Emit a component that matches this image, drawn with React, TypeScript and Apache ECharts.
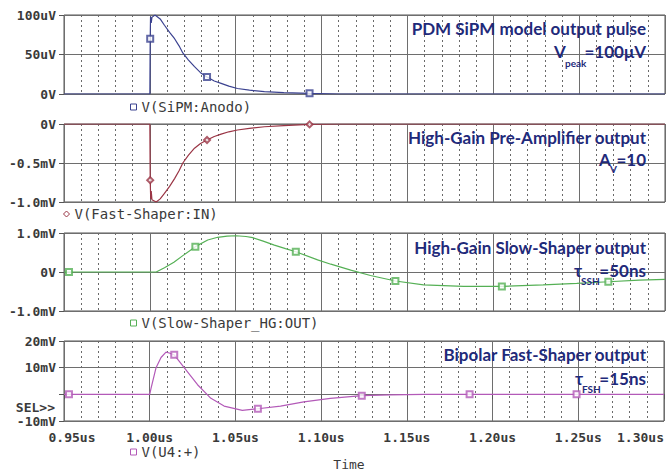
import React, { useEffect, useRef } from "react";
import * as echarts from "echarts";

// Time axis (microseconds) tick labels
const timeTickLabels = ["0.95us", "1.00us", "1.05us", "1.10us", "1.15us", "1.20us", "1.25us", "1.30us"];

// Y tick labels per panel, listed from the bottom tick upwards
const sipmTickLabels = ["0V", "50uV", "100uV"];
const preampTickLabels = ["-1.0mV", "-0.5mV", "0V"];
const slowTickLabels = ["-1.0mV", "0V", "1.0mV"];
const fastTickLabels = ["-10mV", "", "10mV", "20mV"];

// V(SiPM:Anodo), in uV
const sipmTime = [0.95, 1.0, 1.0002, 1.0004, 1.0008, 1.0012, 1.003, 1.006, 1.0085, 1.0115, 1.0144, 1.017, 1.0192, 1.0225, 1.026, 1.0295, 1.0333, 1.0375, 1.0415, 1.046, 1.051, 1.058, 1.0667, 1.078, 1.093, 1.11, 1.3];
const sipmUv = [0, 0, 70, 98, 90, 97, 100, 95, 87, 78, 70, 61, 52, 43, 34.6, 27, 21.5, 16.5, 13.5, 10, 7, 4.8, 3, 1.8, 0.8, 0, 0];
const sipmMarkTime = [1.0002, 1.0333, 1.093];
const sipmMarkUv = [70, 21.5, 0.8];

// V(Fast-Shaper:IN), in mV
const preampTime = [0.95, 1.0, 1.0002, 1.0005, 1.0008, 1.0012, 1.0037, 1.006, 1.0085, 1.0115, 1.0144, 1.017, 1.0192, 1.0225, 1.026, 1.0295, 1.0333, 1.0375, 1.0415, 1.046, 1.051, 1.058, 1.0667, 1.078, 1.093, 1.11, 1.3];
const preampMv = [0, 0, -0.72, -0.96, -0.86, -0.97, -1.0, -0.96, -0.89, -0.8, -0.7, -0.6, -0.5, -0.4, -0.31, -0.25, -0.205, -0.16, -0.13, -0.1, -0.077, -0.055, -0.035, -0.02, -0.005, 0, 0];
const preampMarkTime = [1.0002, 1.0333, 1.093];
const preampMarkMv = [-0.72, -0.205, -0.005];

// V(Slow-Shaper_HG:OUT), in mV
const slowTime = [0.95, 1.0, 1.0037, 1.0085, 1.014, 1.0192, 1.0265, 1.0337, 1.0395, 1.045, 1.0502, 1.056, 1.0599, 1.066, 1.0725, 1.079, 1.085, 1.0977, 1.1054, 1.117, 1.1285, 1.143, 1.1594, 1.1827, 1.205, 1.229, 1.2486, 1.267, 1.285, 1.3];
const slowMv = [0, 0, 0, 0.11, 0.25, 0.42, 0.65, 0.82, 0.89, 0.92, 0.93, 0.91, 0.88, 0.79, 0.69, 0.6, 0.52, 0.31, 0.2, 0.05, -0.09, -0.23, -0.33, -0.37, -0.37, -0.33, -0.29, -0.25, -0.21, -0.19];
const slowMarkTime = [0.9529, 1.0265, 1.085, 1.143, 1.205, 1.267];
const slowMarkMv = [0, 0.65, 0.52, -0.23, -0.37, -0.25];

// V(U4:+), in mV
const fastTime = [0.95, 1.0, 1.0008, 1.0037, 1.0066, 1.0095, 1.0114, 1.0143, 1.0201, 1.0279, 1.0357, 1.0434, 1.054, 1.0631, 1.0763, 1.0899, 1.1054, 1.1237, 1.14, 1.16, 1.3];
const fastMv = [0, 0, 2.3, 10, 13.8, 15.8, 15.5, 14.8, 10, 3.6, -1.5, -4.4, -6.0, -5.4, -4.4, -2.8, -1.5, -0.5, -0.2, 0, 0];
const fastMarkTime = [0.9529, 1.0143, 1.0631, 1.1237, 1.1866, 1.249];
const fastMarkMv = [0, 14.8, -5.4, -0.5, 0, 0];

const zip = (xs: number[], ys: number[]) => xs.map((x, i) => [x, ys[i]]);

const MONO = "'DejaVu Sans Mono', monospace";
const NOTE = "Lato, 'Noto Sans', sans-serif";
const NOTE_COLOR = "#1f2a7a";
const AXIS_TEXT = "#3a3a3a";

const panels = [
  { name: "V(SiPM:Anodo)", color: "#3b4290", marker: "emptyRect", icon: "rect", top: 15, height: 79, min: 0, max: 100, interval: 50, ticks: sipmTickLabels, line: zip(sipmTime, sipmUv), marks: zip(sipmMarkTime, sipmMarkUv), legendLeft: 130, legendY: 108 },
  { name: "V(Fast-Shaper:IN)", color: "#9a3545", marker: "emptyDiamond", icon: "diamond", top: 124, height: 78, min: -1, max: 0, interval: 0.5, ticks: preampTickLabels, line: zip(preampTime, preampMv), marks: zip(preampMarkTime, preampMarkMv), legendLeft: 63, legendY: 215 },
  { name: "V(Slow-Shaper_HG:OUT)", color: "#55b055", marker: "emptyRect", icon: "rect", top: 233, height: 78, min: -1, max: 1, interval: 1, ticks: slowTickLabels, line: zip(slowTime, slowMv), marks: zip(slowMarkTime, slowMarkMv), legendLeft: 130, legendY: 324 },
  { name: "V(U4:+)", color: "#b35ab8", marker: "emptyRect", icon: "rect", top: 341, height: 80, min: -10, max: 20, interval: 10, ticks: fastTickLabels, line: zip(fastTime, fastMv), marks: zip(fastMarkTime, fastMarkMv), legendLeft: 130, legendY: 453 },
];

function noteText(text: string, x: number, y: number, size: number, align: string) {
  return {
    type: "text",
    x,
    y,
    silent: true,
    z: 10,
    style: { text, align, verticalAlign: "middle", fontFamily: NOTE, fontWeight: "bold", fontSize: size, fill: NOTE_COLOR },
  };
}

export default function App() {
  const ref = useRef<HTMLDivElement>(null);

  useEffect(() => {
    if (!ref.current) return;
    const chart = echarts.init(ref.current, undefined, { renderer: "svg" });

    const option: any = {
      animation: false,
      backgroundColor: "#ffffff",
      grid: panels.map((p) => ({
        left: 64,
        right: 2,
        top: p.top,
        height: p.height,
        show: true,
        borderColor: "#555",
        borderWidth: 1,
        backgroundColor: "transparent",
      })),
      xAxis: panels.map((_, i) => ({
        type: "value",
        gridIndex: i,
        min: 0.95,
        max: 1.3,
        interval: 0.05,
        axisLine: { show: false },
        axisTick: { show: i === 3, length: 5, lineStyle: { color: "#555" } },
        axisLabel: {
          show: i === 3,
          margin: 10,
          fontFamily: MONO,
          fontSize: 13,
          fontWeight: "bold",
          color: AXIS_TEXT,
          alignMaxLabel: "right",
          formatter: (v: number) => {
            const k = Math.round((v - 0.95) / 0.05);
            return k === 0 ? "{first|" + timeTickLabels[k] + "}" : timeTickLabels[k];
          },
          rich: { first: { padding: [0, 0, 0, 16], fontFamily: MONO, fontSize: 13, fontWeight: "bold", color: AXIS_TEXT } },
        },
        splitLine: { show: true, lineStyle: { color: "#6e6e6e", width: 1 } },
        minorTick: { show: false, splitNumber: 5 },
        minorSplitLine: { show: true, lineStyle: { color: "#6a6a6a", width: 1, type: [2, 3] } },
      })),
      yAxis: panels.map((p, i) => ({
        type: "value",
        gridIndex: i,
        min: p.min,
        max: p.max,
        interval: p.interval,
        axisLine: { show: false },
        axisTick: { show: true, length: 5, lineStyle: { color: "#555" } },
        axisLabel: {
          margin: 8,
          fontFamily: MONO,
          fontSize: 13,
          fontWeight: "bold",
          color: AXIS_TEXT,
          formatter: (v: number) => p.ticks[Math.round((v - p.min) / p.interval)],
        },
        splitLine: { show: true, lineStyle: { color: "#6e6e6e", width: 1 } },
      })),
      legend: panels.map((p) => ({
        data: [p.name],
        left: p.legendLeft,
        top: p.legendY - 8,
        padding: 0,
        icon: p.icon,
        itemWidth: 6,
        itemHeight: 6,
        selectedMode: false,
        itemStyle: { color: "#ffffff", borderColor: p.color, borderWidth: 1 },
        textStyle: { fontFamily: MONO, fontSize: 14, color: AXIS_TEXT },
      })),
      series: panels.flatMap((p, i) => [
        {
          name: p.name,
          type: "line",
          xAxisIndex: i,
          yAxisIndex: i,
          data: p.line,
          showSymbol: false,
          smooth: false,
          lineStyle: { color: p.color, width: 1.2 },
          itemStyle: { color: p.color },
          z: 3,
          silent: true,
        },
        {
          name: p.name + " markers",
          type: "scatter",
          xAxisIndex: i,
          yAxisIndex: i,
          data: p.marks,
          symbol: p.marker,
          symbolSize: 6,
          itemStyle: { color: p.color, borderWidth: 1 },
          z: 4,
          silent: true,
        },
      ]),
      graphic: [
        noteText("PDM SiPM model output pulse", 646, 28, 17, "right"),
        noteText("V", 554, 51, 17, "left"),
        noteText("peak", 565, 63, 10, "left"),
        noteText("=100μV", 646, 51, 17, "right"),

        noteText("High-Gain Pre-Amplifier output", 646, 137, 17, "right"),
        noteText("A", 599, 159, 17, "left"),
        noteText("V", 610, 169, 10, "left"),
        noteText("=10", 646, 159, 17, "right"),

        noteText("High-Gain Slow-Shaper output", 646, 247, 17, "right"),
        noteText("τ", 574, 270, 17, "left"),
        noteText("SSH", 581, 281, 10, "left"),
        noteText("=50ns", 646, 270, 17, "right"),

        noteText("Bipolar Fast-Shaper output", 646, 354, 17, "right"),
        noteText("τ", 575, 378, 17, "left"),
        noteText("FSH", 582, 389, 10, "left"),
        noteText("=15ns", 646, 378, 17, "right"),

        {
          type: "text",
          x: 55,
          y: 407,
          silent: true,
          style: { text: "SEL>>", align: "right", verticalAlign: "middle", fontFamily: MONO, fontSize: 13, fontWeight: "bold", fill: AXIS_TEXT },
        },
        {
          type: "text",
          x: 349,
          y: 464,
          silent: true,
          style: { text: "Time", align: "center", verticalAlign: "middle", fontFamily: MONO, fontSize: 13, fill: AXIS_TEXT },
        },
      ],
    };

    chart.setOption(option);
    return () => chart.dispose();
  }, []);

  return <div ref={ref} style={{ width: 667, height: 472, position: "absolute", left: 0, top: 0 }} />;
}
